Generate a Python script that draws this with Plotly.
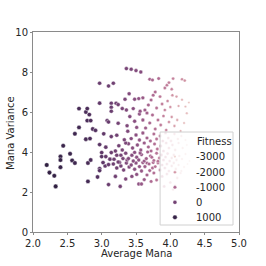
import math
import plotly.graph_objects as go

# ---- data: (average mana, mana variance, fitness) ----
points = [
    # left dark cluster
    (2.20, 3.35, 1100), (2.24, 2.97, 1050), (2.31, 2.81, 1000), (2.33, 2.28, 1100),
    (2.40, 3.77, 950), (2.40, 3.60, 1000), (2.40, 3.24, 950), (2.44, 4.31, 900),
    (2.54, 3.91, 900), (2.57, 3.58, 900), (2.61, 3.45, 850), (2.61, 4.91, 850),
    (2.67, 6.17, 700), (2.67, 5.23, 800), (2.77, 4.64, 700), (2.77, 6.00, 650),
    (2.79, 6.17, 650), (2.79, 5.57, 650), (2.82, 5.87, 600), (2.84, 5.57, 600),
    (2.83, 4.67, 650), (2.80, 3.45, 700), (2.84, 3.60, 650), (2.80, 2.53, 750),
    (2.87, 5.15, 550), (2.91, 5.08, 500), (2.97, 6.44, 300),
    # y 2-3
    (2.94, 2.75, 500), (3.10, 2.37, 150), (3.20, 2.78, 50), (3.27, 2.28, 0),
    (3.35, 2.65, -200), (3.44, 2.78, -300), (3.51, 2.88, -450), (3.54, 2.40, -500),
    (3.58, 2.40, -600), (3.66, 2.85, -850), (3.72, 2.53, -1050), (3.80, 2.60, -1250),
    (3.88, 2.78, -1550), (3.91, 2.28, -1650), (4.00, 2.48, -1950), (4.04, 2.12, -2100),
    (3.95, 2.90, -1800), (4.10, 2.70, -2300), (4.15, 2.95, -2500), (3.76, 2.95, -1150),
    (3.62, 2.62, -700), (4.07, 2.30, -2200),
    # y 3-3.5
    (2.97, 3.17, 400), (2.97, 3.07, 450), (3.05, 3.30, 250), (3.10, 3.37, 200),
    (3.17, 3.40, 100), (3.22, 3.20, 50), (3.28, 3.30, -50), (3.32, 3.10, -100),
    (3.36, 3.45, -200), (3.40, 3.25, -250), (3.43, 3.35, -300), (3.48, 3.14, -400),
    (3.50, 3.45, -400), (3.55, 3.27, -550), (3.58, 3.05, -600), (3.63, 3.27, -750),
    (3.66, 3.45, -850), (3.69, 3.40, -950), (3.70, 3.07, -1000), (3.74, 3.20, -1100),
    (3.78, 3.27, -1200), (3.82, 3.45, -1300), (3.85, 3.10, -1450), (3.88, 3.35, -1550),
    (3.92, 3.20, -1700), (3.95, 3.40, -1800), (3.98, 3.05, -1900), (4.02, 3.30, -2050),
    (4.05, 3.45, -2150), (4.08, 3.15, -2250), (4.12, 3.35, -2450), (4.16, 3.05, -2600),
    (4.20, 3.25, -2750), (4.25, 3.40, -2950), (3.26, 3.48, -50), (3.60, 3.47, -650),
    (3.75, 3.47, -1100),
    # y 3.5-4
    (3.00, 3.97, 350), (3.00, 3.77, 400), (3.02, 3.47, 350), (3.06, 3.77, 250),
    (3.12, 3.64, 200), (3.14, 3.97, 150), (3.18, 3.64, 100), (3.22, 3.84, 50),
    (3.24, 3.50, 0), (3.28, 3.84, -50), (3.31, 3.67, -100), (3.35, 3.94, -150),
    (3.37, 3.60, -200), (3.39, 3.67, -250), (3.44, 3.84, -300), (3.46, 3.55, -350),
    (3.51, 3.74, -450), (3.54, 3.60, -500), (3.58, 3.87, -600), (3.62, 3.55, -700),
    (3.65, 3.67, -800), (3.67, 4.00, -850), (3.71, 3.80, -1000), (3.73, 3.74, -1050),
    (3.76, 3.58, -1150), (3.80, 3.94, -1250), (3.82, 3.54, -1300), (3.84, 3.70, -1400),
    (3.87, 3.85, -1500), (3.90, 3.60, -1600), (3.93, 3.75, -1700), (3.96, 3.92, -1800),
    (3.99, 3.55, -1900), (4.02, 3.70, -2050), (4.05, 3.85, -2150), (4.09, 3.60, -2300),
    (4.13, 3.80, -2450), (4.17, 3.65, -2650), (4.22, 3.90, -2800), (4.28, 3.55, -3000),
    (3.48, 3.98, -400), (3.56, 3.95, -550),
    # y 4-4.5
    (2.97, 4.37, 400), (3.06, 4.24, 250), (3.25, 4.31, 0), (3.39, 4.41, -250),
    (3.30, 4.10, -100), (3.45, 4.20, -350), (3.52, 4.35, -450), (3.57, 4.10, -600),
    (3.62, 4.45, -700), (3.68, 4.25, -900), (3.72, 4.05, -1000), (3.77, 4.40, -1150),
    (3.81, 4.15, -1300), (3.86, 4.30, -1450), (3.90, 4.05, -1600), (3.94, 4.45, -1750),
    (3.98, 4.20, -1900), (4.03, 4.35, -2050), (4.07, 4.10, -2200), (4.12, 4.45, -2450),
    (4.18, 4.20, -2650), (4.24, 4.35, -2900), (3.20, 4.05, 50), (3.35, 4.45, -150),
    # y 4.5-5
    (3.03, 4.91, 300), (3.14, 4.77, 150), (3.22, 4.84, 50), (3.38, 5.04, -200),
    (3.43, 4.67, -300), (3.33, 4.61, -150), (3.50, 4.85, -400), (3.55, 4.60, -550),
    (3.60, 4.95, -650), (3.66, 4.70, -850), (3.71, 4.55, -1000), (3.76, 4.90, -1150),
    (3.80, 4.65, -1250), (3.85, 4.80, -1400), (3.89, 4.55, -1550), (3.93, 4.95, -1700),
    (3.97, 4.70, -1850), (4.01, 4.55, -2000), (4.06, 4.90, -2150), (4.11, 4.65, -2400),
    (4.16, 4.80, -2600), (4.22, 4.60, -2850),
    # y 5-6
    (3.08, 5.57, 200), (3.10, 5.50, 200), (3.24, 5.44, 0), (3.37, 5.31, -200),
    (3.41, 5.77, -250), (3.48, 5.54, -350), (3.51, 5.23, -450), (3.60, 5.60, -650),
    (3.64, 5.20, -750), (3.70, 5.45, -950), (3.74, 5.85, -1050), (3.78, 5.15, -1200),
    (3.82, 5.60, -1300), (3.86, 5.35, -1450), (3.90, 5.80, -1550), (3.94, 5.10, -1700),
    (3.98, 5.50, -1850), (4.02, 5.75, -2000), (4.06, 5.30, -2150), (4.10, 5.60, -2300),
    (4.15, 5.05, -2550), (4.20, 5.45, -2700), (4.24, 5.94, -2600), (3.55, 5.90, -500),
    (3.66, 5.95, -800),
    # y 6-7
    (3.14, 6.44, 150), (3.14, 6.24, 150), (3.14, 6.04, 150), (3.21, 6.44, 50),
    (3.24, 6.37, 0), (3.30, 6.17, -100), (3.34, 6.64, -150), (3.36, 6.10, -200),
    (3.40, 6.91, -250), (3.46, 6.17, -350), (3.48, 6.64, -350), (3.54, 6.67, -500),
    (3.56, 6.04, -550), (3.60, 6.71, -650), (3.63, 6.10, -750), (3.68, 6.35, -900),
    (3.72, 6.60, -1000), (3.75, 6.84, -1050), (3.78, 7.00, -1100), (3.80, 6.20, -1250),
    (3.85, 6.77, -1350), (3.88, 6.40, -1500), (3.92, 6.10, -1650), (3.96, 6.55, -1750),
    (4.03, 6.84, -1900), (4.00, 6.25, -1950), (4.09, 6.77, -2150), (4.12, 6.30, -2350),
    (4.17, 6.61, -2500), (4.22, 6.27, -2700), (4.27, 6.47, -2850),
    # y > 7
    (2.97, 7.44, 150), (3.10, 7.30, 100), (3.17, 7.44, 50), (3.36, 8.17, -100),
    (3.43, 8.14, -150), (3.50, 8.07, -250), (3.57, 8.00, -300), (3.70, 7.64, -900),
    (3.74, 7.60, -950), (3.83, 7.67, -1100), (3.92, 7.20, -1400), (3.95, 7.34, -1450),
    (3.98, 7.47, -1500), (4.02, 7.14, -1650), (4.04, 7.67, -1600), (4.17, 7.64, -1800),
    (4.21, 7.57, -1900),
]
average_mana = [p[0] for p in points]
mana_variance = [p[1] for p in points]
fitness = [p[2] for p in points]

legend_values = [-3000, -2000, -1000, 0, 1000]
x_ticks = [2.0, 2.5, 3.0, 3.5, 4.0, 4.5, 5.0]
y_ticks = [0, 2, 4, 6, 8, 10]

# ---- styling helpers ----
F_MIN, F_MAX = -3100, 1150


def cubehelix(v, gamma=1.0, start=0.0, rot=0.4, hue=0.8):
    xg = v ** gamma
    a = hue * xg * (1 - xg) / 2
    phi = 2 * math.pi * (start / 3 + rot * v)
    r = xg + a * (-0.14861 * math.cos(phi) + 1.78277 * math.sin(phi))
    g = xg + a * (-0.29227 * math.cos(phi) - 0.90649 * math.sin(phi))
    b = xg + a * (1.97294 * math.cos(phi))
    c = [min(1, max(0, q)) for q in (r, g, b)]
    return "rgb(%d,%d,%d)" % tuple(round(q * 255) for q in c)


def cmap(t):
    return cubehelix(0.85 + (0.15 - 0.85) * t)


colorscale = [[i / 20, cmap(i / 20)] for i in range(21)]

D_MIN, D_MAX = 2.1, 4.6


def size_of(f):
    t = (f - F_MIN) / (F_MAX - F_MIN)
    t = min(1, max(0, t))
    return math.sqrt(D_MIN ** 2 + t * (D_MAX ** 2 - D_MIN ** 2))


def color_of(f):
    t = (f - F_MIN) / (F_MAX - F_MIN)
    return cmap(min(1, max(0, t)))


fig = go.Figure()
fig.add_trace(go.Scatter(
    x=average_mana, y=mana_variance, mode="markers",
    marker=dict(
        color=fitness, colorscale=colorscale, cmin=F_MIN, cmax=F_MAX,
        size=[size_of(f) for f in fitness],
        line=dict(color="white", width=0.4), opacity=1,
    ),
    showlegend=False, hoverinfo="skip",
))

FONT = "DejaVu Sans"
GRAY = "#8a8a8a"
TXT = "#262626"

# ---- manual legend (matplotlib-like) ----
L_X0, L_X1, L_Y0, L_Y1 = 0.617, 0.971, 0.035, 0.5
shapes = [dict(type="rect", xref="paper", yref="paper", x0=L_X0, x1=L_X1,
               y0=L_Y0, y1=L_Y1, line=dict(color="#d0d0d0", width=1),
               fillcolor="rgba(255,255,255,0.8)", layer="above")]
annotations = [dict(text="Fitness", xref="paper", yref="paper", x=0.784, y=0.455,
                    xanchor="left", yanchor="middle", showarrow=False,
                    font=dict(family=FONT, size=10, color=TXT))]
row_y = [0.3765, 0.2985, 0.2235, 0.1485, 0.0735]
for v, yy in zip(legend_values, row_y):
    r = size_of(v) / 2
    shapes.append(dict(type="circle", xref="paper", yref="paper",
                       xsizemode="pixel", ysizemode="pixel",
                       xanchor=0.689, yanchor=yy, x0=-r, x1=r, y0=-r, y1=r,
                       fillcolor=color_of(v), line=dict(color="white", width=0.4),
                       layer="above"))
    annotations.append(dict(text=str(v), xref="paper", yref="paper", x=0.780, y=yy,
                            xanchor="left", yanchor="middle", showarrow=False,
                            font=dict(family=FONT, size=10, color=TXT)))

# axis titles as annotations for exact placement
annotations.append(dict(text="Average Mana", xref="paper", yref="paper", x=0.5, y=-0.105,
                        xanchor="center", yanchor="middle", showarrow=False,
                        font=dict(family=FONT, size=10, color=TXT)))
annotations.append(dict(text="Mana Variance", xref="paper", yref="paper", x=-0.112, y=0.495,
                        xanchor="center", yanchor="middle", showarrow=False, textangle=-90,
                        font=dict(family=FONT, size=10, color=TXT)))

axis_common = dict(showgrid=False, zeroline=False, showline=True, linecolor=GRAY,
                   linewidth=1, mirror=True, ticks="outside", ticklen=2,
                   tickcolor=GRAY, tickwidth=1,
                   tickfont=dict(family=FONT, size=10, color=TXT))

fig.update_layout(
    width=266, height=266,
    margin=dict(l=33, r=27, t=32, b=34, autoexpand=False),
    paper_bgcolor="white", plot_bgcolor="white",
    xaxis=dict(range=[2, 5], tickvals=x_ticks, ticktext=["%.1f" % v for v in x_ticks],
               **axis_common),
    yaxis=dict(range=[0, 10], tickvals=y_ticks, ticktext=[str(v) for v in y_ticks],
               **axis_common),
    shapes=shapes, annotations=annotations, showlegend=False,
)

# remove the browser's default 8px body margin so the figure fills the window
fig.write_html(
    "out.html",
    config={"displayModeBar": False, "staticPlot": True},
    post_script="document.body.style.margin='0';document.body.style.overflow='hidden';",
)
